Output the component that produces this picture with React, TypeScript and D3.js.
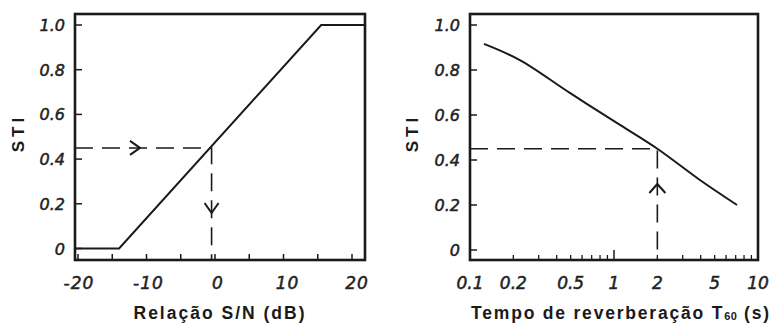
import React, { useEffect, useRef } from 'react';
import * as d3 from 'd3';

// STI vs signal/noise ratio (left panel)
const snrDb = [-20.4, -14, 15.5, 21.8];
const stiBySnr = [0, 0, 1, 1];
const snrLabels = [-20, -10, 0, 10, 20];
const snrMinor = [-20, -15, -10, -5, 0, 5, 10, 15, 20];

// STI vs reverberation time (right panel)
const t60 = [0.125, 0.222, 0.494, 1.1, 2, 3.95, 7.15];
const stiByT60 = [0.916, 0.844, 0.698, 0.556, 0.45, 0.311, 0.2];
const t60Labels = [0.1, 0.2, 0.5, 1, 2, 5, 10];
const t60Minor = [0.2, 0.3, 0.4, 0.5, 0.6, 0.7, 0.8, 0.9, 2, 3, 4, 5, 6, 7, 8, 9];

const stiTicks = [0, 0.2, 0.4, 0.6, 0.8, 1.0];
const stiTickLabels = ['0', '0.2', '0.4', '0.6', '0.8', '1.0'];

// reading lines
const readSti = 0.45;
const readSnr = -0.5;
const readT60 = 2;

const handFont = '"DejaVu Sans", sans-serif';
const titleFont = '"Liberation Sans", Arial, sans-serif';

function drawFrame(g, x0, x1, y0, y1, yScale, labelX) {
  g.append('rect')
    .attr('x', x0).attr('y', y0)
    .attr('width', x1 - x0).attr('height', y1 - y0)
    .attr('fill', 'none').attr('stroke', '#1a1a1a').attr('stroke-width', 2.6);

  // y ticks (inward) + labels
  g.selectAll('.ytick')
    .data(stiTicks)
    .join('line')
    .attr('x1', x0).attr('x2', x0 + 7)
    .attr('y1', d => yScale(d)).attr('y2', d => yScale(d))
    .attr('stroke', '#1a1a1a').attr('stroke-width', 1.5);

  g.selectAll('.ylabel')
    .data(stiTicks)
    .join('text')
    .attr('x', x0 - 10)
    .attr('y', d => yScale(d) + 6)
    .attr('text-anchor', 'end')
    .attr('font-family', handFont)
    .attr('font-style', 'italic')
    .attr('font-size', 16)
    .attr('fill', '#222')
    .attr('stroke', '#222').attr('stroke-width', 0.5)
    .text((d, i) => stiTickLabels[i]);

  g.append('text')
    .attr('transform', `translate(${labelX}, 133) rotate(-90)`)
    .attr('text-anchor', 'middle')
    .attr('font-family', titleFont)
    .attr('font-weight', 'bold')
    .attr('font-size', 17)
    .attr('letter-spacing', 4)
    .attr('fill', '#1a1a1a')
    .text('STI');
}

function arrow(g, pts) {
  g.append('path')
    .attr('d', d3.line()(pts))
    .attr('fill', 'none').attr('stroke', '#1a1a1a').attr('stroke-width', 2)
    .attr('stroke-linejoin', 'round');
}

function Charts() {
  const ref = useRef(null);

  useEffect(() => {
    const svg = d3.select(ref.current);
    svg.selectAll('*').remove();

    const top = 14;
    const bottom = 260;
    const yScale = d3.scaleLinear().domain([0, 1]).range([248.5, 25]);

    // ---------- left panel ----------
    const left = svg.append('g');
    const xSnr = d3.scaleLinear().domain([-20, 20]).range([78, 352]);
    drawFrame(left, 75, 365, top, bottom, yScale, 24);

    left.selectAll('.xtick')
      .data(snrMinor)
      .join('line')
      .attr('x1', d => xSnr(d)).attr('x2', d => xSnr(d))
      .attr('y1', bottom).attr('y2', bottom - 6)
      .attr('stroke', '#1a1a1a').attr('stroke-width', 1.5);

    left.selectAll('.xlabel')
      .data(snrLabels)
      .join('text')
      .attr('x', d => xSnr(d) + 3 + d * 0.1)
      .attr('y', 289)
      .attr('text-anchor', 'middle')
      .attr('font-family', handFont)
      .attr('font-style', 'italic')
      .attr('font-size', 17)
      .attr('letter-spacing', 1)
      .attr('fill', '#222')
      .attr('stroke', '#222').attr('stroke-width', 0.5)
      .text(d => d);

    left.append('text')
      .attr('x', 220).attr('y', 319)
      .attr('text-anchor', 'middle')
      .attr('font-family', titleFont)
      .attr('font-weight', 'bold')
      .attr('font-size', 17.5)
      .attr('letter-spacing', 2)
      .attr('fill', '#1a1a1a')
      .text('Relação S/N (dB)');

    const snrLine = d3.line()
      .x(d => xSnr(d[0]))
      .y(d => yScale(d[1]));
    left.append('path')
      .attr('d', snrLine(snrDb.map((v, i) => [v, stiBySnr[i]])))
      .attr('fill', 'none').attr('stroke', '#1a1a1a').attr('stroke-width', 2);

    const rx = xSnr(readSnr);
    const ry = yScale(readSti);
    left.append('path')
      .attr('d', `M75,${ry}H${rx}V${bottom}`)
      .attr('fill', 'none').attr('stroke', '#1a1a1a').attr('stroke-width', 1.6)
      .attr('stroke-dasharray', '18,9');
    // arrows
    arrow(left, [[130, ry - 7], [140, ry], [130, ry + 7]]);
    arrow(left, [[rx - 7, 203], [rx, 213], [rx + 7, 203]]);

    // ---------- right panel ----------
    const right = svg.append('g');
    const xT = d3.scaleLog().domain([0.1, 10]).range([470, 758]);
    const yR = d3.scaleLinear().domain([0, 1]).range([250, 25]);
    drawFrame(right, 470, 758, top, bottom, yR, 418);

    right.selectAll('.xtick')
      .data(t60Minor)
      .join('line')
      .attr('x1', d => xT(d)).attr('x2', d => xT(d))
      .attr('y1', bottom).attr('y2', bottom - 5)
      .attr('stroke', '#1a1a1a').attr('stroke-width', 1.3);
    right.append('line')
      .attr('x1', xT(1)).attr('x2', xT(1))
      .attr('y1', bottom).attr('y2', bottom - 10)
      .attr('stroke', '#1a1a1a').attr('stroke-width', 1.5);

    right.selectAll('.xlabel')
      .data(t60Labels)
      .join('text')
      .attr('x', d => xT(d))
      .attr('y', 289)
      .attr('text-anchor', 'middle')
      .attr('font-family', handFont)
      .attr('font-style', 'italic')
      .attr('font-size', 17)
      .attr('fill', '#222')
      .attr('stroke', '#222').attr('stroke-width', 0.5)
      .text(d => d);

    const title = right.append('text')
      .attr('x', 621).attr('y', 319)
      .attr('text-anchor', 'middle')
      .attr('font-family', titleFont)
      .attr('font-weight', 'bold')
      .attr('font-size', 17.5)
      .attr('letter-spacing', 1.8)
      .attr('fill', '#1a1a1a');
    title.append('tspan').text('Tempo de reverberação T');
    title.append('tspan').attr('font-size', 11).attr('dy', 1).attr('letter-spacing', 0.5).text('60');
    title.append('tspan').attr('dy', -1).text(' (s)');

    const t60Line = d3.line()
      .x(d => xT(d[0]))
      .y(d => yR(d[1]))
      .curve(d3.curveCatmullRom);
    right.append('path')
      .attr('d', t60Line(t60.map((v, i) => [v, stiByT60[i]])))
      .attr('fill', 'none').attr('stroke', '#1a1a1a').attr('stroke-width', 2);

    const tx = xT(readT60);
    const ty = yR(readSti);
    right.append('path')
      .attr('d', `M470,${ty}H${tx}V${bottom}`)
      .attr('fill', 'none').attr('stroke', '#1a1a1a').attr('stroke-width', 1.6)
      .attr('stroke-dasharray', '18,9');
    arrow(right, [[tx - 8, 193], [tx, 184], [tx + 8, 193]]);
  }, []);

  return <svg ref={ref} width={775} height={323} style={{ position: 'absolute', left: 0, top: 0, background: '#fff' }} />;
}

export default function App() {
  return <Charts />;
}
